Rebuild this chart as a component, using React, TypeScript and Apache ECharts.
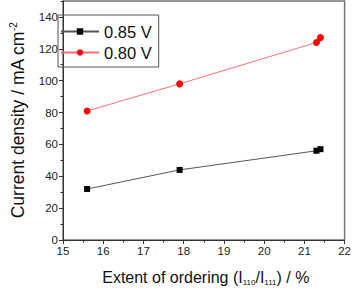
import React, { useEffect, useRef } from "react";
import * as echarts from "echarts";

const xOrdering085 = [15.6, 17.9, 21.3, 21.4];
const current085 = [32, 44, 56, 57];
const xOrdering080 = [15.6, 17.9, 21.3, 21.4];
const current080 = [81, 98, 124, 127];
const seriesNames = ["0.85 V", "0.80 V"];

export default function App() {
  const ref = useRef<HTMLDivElement>(null);
  useEffect(() => {
    const chart = echarts.init(ref.current!, null, { renderer: "svg" });
    const font = "Liberation Sans, Arial, sans-serif";
    const axisColor = "#333";
    const majorAxis = (min: number, max: number, interval: number, pos: string) => ({
      type: "value",
      min,
      max,
      interval,
      position: pos,
      axisLine: { show: true, lineStyle: { color: axisColor, width: 1 } },
      axisTick: { show: true, inside: false, length: 4, lineStyle: { color: axisColor } },
      splitLine: { show: false },
      axisLabel: {
        color: "#222",
        fontSize: 11.5,
        fontFamily: font,
        margin: 5,
        showMaxLabel: pos === "bottom",
      },
    });
    const minorAxis = (min: number, max: number, interval: number, pos: string) => ({
      type: "value",
      min,
      max,
      interval,
      position: pos,
      axisLine: { show: false },
      axisTick: { show: true, inside: false, length: 2.5, lineStyle: { color: axisColor } },
      splitLine: { show: false },
      axisLabel: { show: false },
    });
    chart.setOption({
      animation: false,
      grid: {
        left: 49,
        top: 1,
        right: 8,
        bottom: 47,
        show: true,
        borderColor: "#777",
        borderWidth: 1.5,
      },
      legend: {
        left: 58,
        top: 15,
        orient: "vertical",
        data: seriesNames,
        itemWidth: 38,
        itemHeight: 8,
        itemGap: 4,
        padding: [8, 7, 6, 2],
        borderColor: "#555",
        borderWidth: 1,
        textStyle: { fontSize: 16.5, fontFamily: font, color: "#111" },
      },
      xAxis: [
        {
          ...majorAxis(15, 22, 1, "bottom"),
          name: "Extent of ordering (I{s|110}/I{s|111}) / %",
          nameLocation: "middle",
          nameGap: 29,
          nameTextStyle: {
            fontSize: 16,
            fontFamily: font,
            color: "#111",
            padding: [0, 0, 0, 4],
            rich: {
              s: { fontSize: 8, fontFamily: font, color: "#111", padding: [9, 0, 0, 0] },
            },
          },
        },
        minorAxis(15, 22, 0.5, "bottom"),
      ],
      yAxis: [
        {
          ...majorAxis(0, 150, 20, "left"),
          name: "Current density / mA cm{p|-2}",
          nameLocation: "middle",
          nameGap: 35,
          nameTextStyle: {
            fontSize: 17.5,
            fontFamily: font,
            color: "#111",
            rich: {
              p: { fontSize: 10, fontFamily: font, color: "#111", padding: [0, 0, 10, 0] },
            },
          },
        },
        minorAxis(0, 150, 10, "left"),
      ],
      series: [
        {
          name: seriesNames[0],
          type: "line",
          data: xOrdering085.map((x, i) => [x, current085[i]]),
          symbol: "rect",
          symbolSize: 6,
          itemStyle: { color: "#000" },
          lineStyle: { color: "#555", width: 1 },
        },
        {
          name: seriesNames[1],
          type: "line",
          data: xOrdering080.map((x, i) => [x, current080[i]]),
          symbol: "circle",
          symbolSize: 7,
          itemStyle: { color: "#ff0000" },
          lineStyle: { color: "#ff7070", width: 1 },
        },
      ],
    });
    return () => chart.dispose();
  }, []);
  return <div ref={ref} style={{ width: 354, height: 291, position: "absolute", left: 0, top: 0 }} />;
}
